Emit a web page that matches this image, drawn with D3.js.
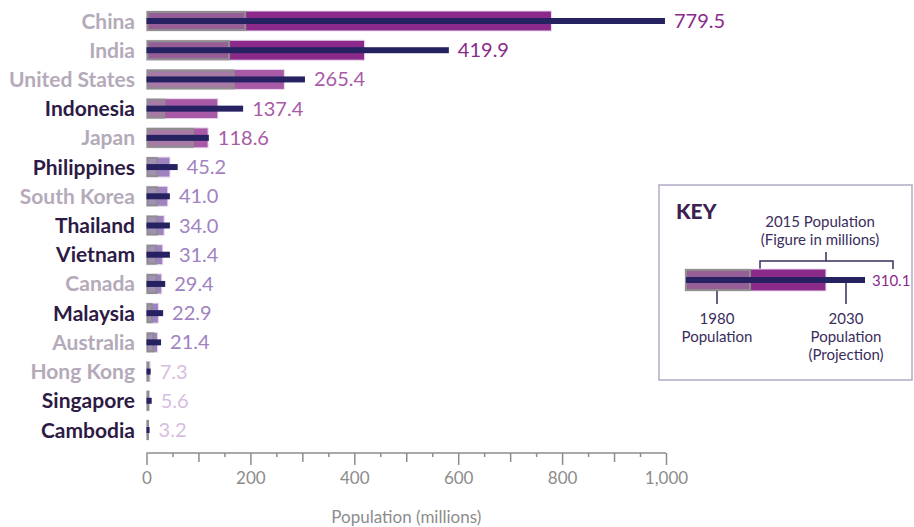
<!DOCTYPE html>
<html><head><meta charset="utf-8">
<script src="https://cdn.jsdelivr.net/npm/d3@7"></script>
<style>
html,body{margin:0;padding:0;background:#fff;}
svg{display:block;font-family:Lato,"Open Sans",sans-serif;}
</style></head>
<body>
<svg id="chart" width="914" height="527"></svg>
<script>
const countries = ["China","India","United States","Indonesia","Japan","Philippines","South Korea","Thailand","Vietnam","Canada","Malaysia","Australia","Hong Kong","Singapore","Cambodia"];
const pop1980 = [190,159,168,34,89,20,20,20,18,19,10,13,3.5,3.5,2];
const pop2015 = [779.5,419.9,265.4,137.4,118.6,45.2,41.0,34.0,31.4,29.4,22.9,21.4,7.3,5.6,3.2];
const pop2030 = [998,582,305,186,120,60,45,45,45,36,32,28,8,10,6];
const asean = [false,false,false,true,false,true,false,true,true,false,true,false,false,true,true];
const axisTicks = d3.range(0,1001,50);
const axisLabels = [0,200,400,600,800,1000];

const svg = d3.select("#chart");
const x = d3.scaleLinear().domain([0,1000]).range([146.5,666]);
const y = d3.scalePoint().domain(countries).range([21,430]);
const barH = 20, lineH = 6;

function tierColor(v){
  if (v >= 400) return "#8b2a8b";
  if (v >= 100) return "#a95aa6";
  if (v >= 20) return "#9f82c0";
  return "#d7bde2";
}

const data = countries.map((c,i)=>({c, a:pop1980[i], b:pop2015[i], p:pop2030[i], asean:asean[i]}));

const g = svg.append("g");
const rows = g.selectAll("g.row").data(data).join("g").attr("class","row");

// 2015 bars
rows.append("rect")
  .attr("x", x(0)).attr("y", d=>y(d.c)-barH/2)
  .attr("width", d=>x(d.b)-x(0)).attr("height", barH)
  .attr("fill", d=>tierColor(d.b))
  .attr("stroke", "#eadcee").attr("stroke-width", 1);

// 1980 overlay
rows.append("rect")
  .attr("x", x(0)+1).attr("y", d=>y(d.c)-barH/2+1)
  .attr("width", d=>Math.max(0.5, x(d.a)-x(0)-1)).attr("height", barH-2)
  .attr("fill", "#a8a8a8").attr("fill-opacity", 0.42)
  .attr("stroke", "#8e8e8e").attr("stroke-width", 2);

// 2030 line
rows.append("rect")
  .attr("x", x(0)).attr("y", d=>y(d.c)-lineH/2)
  .attr("width", d=>x(d.p)-x(0)).attr("height", lineH)
  .attr("fill", "#262262");

// value labels
rows.append("text")
  .attr("x", d=>Math.max(x(d.b), x(d.p))+9)
  .attr("y", d=>y(d.c)+7)
  .attr("font-size", 20)
  .attr("fill", d=>tierColor(d.b))
  .text(d=>d3.format(".1f")(d.b));

// country labels
rows.append("text")
  .attr("x", 135).attr("y", d=>y(d.c)+7.5)
  .attr("text-anchor","end")
  .attr("font-size", 21).attr("font-weight", 700)
  .attr("fill", d=>d.asean ? "#2d1a45" : "#b4aab9")
  .text(d=>d.c);

// axis
const axisY = 453;
const ax = svg.append("g").attr("transform",`translate(0,${axisY})`)
  .call(d3.axisBottom(x).tickValues(axisTicks).tickSizeOuter(0)
    .tickFormat(v=>axisLabels.includes(v) ? d3.format(",")(v) : ""));
ax.select(".domain").attr("stroke","#8c8c8c").attr("stroke-width",1.5).attr("d",`M${x(0)},0H${x(1000)}`);
ax.selectAll(".tick line").attr("stroke","#8c8c8c").attr("stroke-width",1.5)
  .attr("y2", v => v%200===0 ? 12 : (v%100===0 ? 9 : 4));
ax.selectAll(".tick text").attr("fill","#8c8c8c").attr("font-size",17)
  .attr("font-family","Lato, sans-serif").attr("y",19).attr("dy","0.71em");

svg.append("text").attr("x",(x(0)+x(1000))/2).attr("y",523)
  .attr("text-anchor","middle").attr("font-size",17).attr("fill","#8c8c8c")
  .text("Population (millions)");

// KEY
const k = svg.append("g");
const navy = "#3a2d5c";
k.append("rect").attr("x",659).attr("y",185).attr("width",253).attr("height",195)
  .attr("fill","#fff").attr("stroke","#b2a9c6").attr("stroke-width",1.5);
k.append("text").attr("x",676).attr("y",219).attr("font-size",21).attr("font-weight",900)
  .attr("fill","#3d1f52").text("KEY");
k.append("text").attr("x",820).attr("y",227).attr("text-anchor","middle").attr("font-size",15).attr("fill",navy).text("2015 Population");
k.append("text").attr("x",820).attr("y",245).attr("text-anchor","middle").attr("font-size",15).attr("fill",navy).text("(Figure in millions)");
// bracket
k.append("path").attr("d","M760,269V261H893V269M826,261V252").attr("fill","none").attr("stroke",navy).attr("stroke-width",1.5);
// key bars
k.append("rect").attr("x",685).attr("y",269).attr("width",141).attr("height",22).attr("fill","#8b2a8b").attr("stroke","#eadcee");
k.append("rect").attr("x",686).attr("y",270).attr("width",64).attr("height",20).attr("fill","#a8a8a8").attr("fill-opacity",0.42).attr("stroke","#8e8e8e").attr("stroke-width",2);
k.append("rect").attr("x",686).attr("y",277).attr("width",179).attr("height",6).attr("fill","#262262");
k.append("text").attr("x",872).attr("y",286).attr("font-size",15).attr("fill","#8b2a8b").text("310.1");
k.append("path").attr("d","M717,291V304M846,283V304").attr("fill","none").attr("stroke",navy).attr("stroke-width",1.5);
[["1980",717,324],["Population",717,342],["2030",846,324],["Population",846,342],["(Projection)",846,360]].forEach(([t,tx,ty])=>{
  k.append("text").attr("x",tx).attr("y",ty).attr("text-anchor","middle").attr("font-size",15).attr("fill",navy).text(t);
});
</script>
</body></html>
